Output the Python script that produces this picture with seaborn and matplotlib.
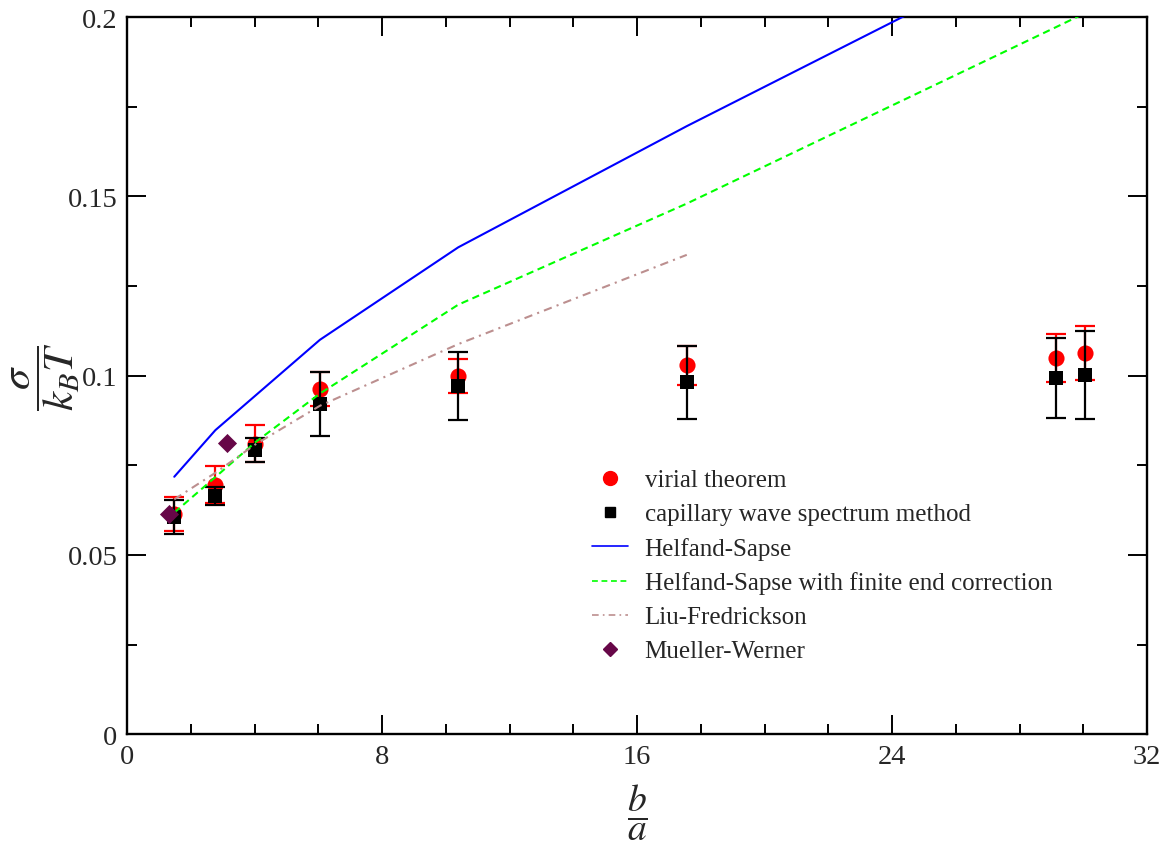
import numpy as np
import pandas as pd
import matplotlib
matplotlib.use("Agg")
import matplotlib.pyplot as plt
import seaborn as sns
from matplotlib.lines import Line2D
from matplotlib.ticker import MultipleLocator

# ---------------- data ----------------
ratio = [1.48, 2.77, 4.02, 6.05, 10.39, 17.56, 29.14, 30.05]
virial = [0.0615, 0.0696, 0.0810, 0.0963, 0.1000, 0.1029, 0.1049, 0.1063]
virial_err = [0.0047, 0.0051, 0.0051, 0.0047, 0.0047, 0.0055, 0.0068, 0.0076]
capillary = [0.0606, 0.0664, 0.0792, 0.0920, 0.0970, 0.0981, 0.0994, 0.1002]
capillary_err = [0.0047, 0.0026, 0.0033, 0.0089, 0.0095, 0.0101, 0.0112, 0.0123]

hs_x = [1.48, 2.77, 4.02, 6.05, 10.39, 17.56, 29.14, 30.05]
hs_y = [0.0718, 0.0848, 0.0944, 0.1100, 0.1358, 0.1696, 0.2217, 0.2257]

hsf_x = [1.48, 2.77, 4.02, 6.05, 10.39, 17.56, 29.14, 30.05]
hsf_y = [0.0618, 0.0717, 0.0814, 0.0950, 0.1198, 0.1480, 0.1972, 0.2011]

lf_x = [1.48, 2.77, 4.02, 6.05, 10.39, 17.56]
lf_y = [0.0655, 0.0729, 0.0808, 0.0916, 0.1088, 0.1337]

mw_x = [1.33, 3.13]
mw_y = [0.0613, 0.0812]

labels = ["virial theorem", "capillary wave spectrum method", "Helfand-Sapse",
          "Helfand-Sapse with finite end correction", "Liu-Fredrickson",
          "Mueller-Werner"]
x_ticks = [0, 8, 16, 24, 32]
y_ticks = [0, 0.05, 0.1, 0.15, 0.2]
y_tick_labels = ["0", "0.05", "0.1", "0.15", "0.2"]

# ---------------- style ----------------
sns.set_theme(style="ticks")
plt.rcParams["font.family"] = ["Liberation Serif", "DejaVu Serif"]
plt.rcParams["mathtext.fontset"] = "stix"

RED = "#ff0000"
BLUE = "#0000ff"
GREEN = "#00ff00"
BROWN = "#bc8f8f"
MAROON = "#670748"

fig = plt.figure(figsize=(11.66, 8.45), dpi=100)
ax = fig.add_axes([0.109, 0.130, 0.8747, 0.8485])

# error bars + markers
ax.errorbar(ratio, virial, yerr=virial_err, fmt="none", ecolor=RED,
            elinewidth=1.6, capsize=7.5, capthick=1.6, zorder=2)
sns.scatterplot(x=ratio, y=virial, marker="o", s=135, color=RED,
                linewidth=0, ax=ax, zorder=3)
ax.errorbar(ratio, capillary, yerr=capillary_err, fmt="none", ecolor="black",
            elinewidth=1.6, capsize=7.5, capthick=1.6, zorder=4)
sns.scatterplot(x=ratio, y=capillary, marker="s", s=100, color="black",
                linewidth=0, ax=ax, zorder=5)

# theory lines
sns.lineplot(x=hs_x, y=hs_y, sort=False, estimator=None, color=BLUE,
             linewidth=1.5, ax=ax, zorder=6)
sns.lineplot(x=hsf_x, y=hsf_y, sort=False, estimator=None, color=GREEN,
             linewidth=1.5, linestyle=(0, (3.5, 2.2)), ax=ax, zorder=6)
sns.lineplot(x=lf_x, y=lf_y, sort=False, estimator=None, color=BROWN,
             linewidth=1.5, linestyle=(0, (4, 2.5, 1, 2.5)), ax=ax, zorder=6)
sns.scatterplot(x=mw_x, y=mw_y, marker="D", s=95, color=MAROON,
                linewidth=0, ax=ax, zorder=7)

# axes
ax.set_xlim(0, 32)
ax.set_ylim(0, 0.2)
ax.set_xticks(x_ticks)
ax.set_yticks(y_ticks)
ax.xaxis.set_minor_locator(MultipleLocator(2))
ax.yaxis.set_minor_locator(MultipleLocator(0.025))
ax.set_yticklabels(y_tick_labels)
ax.set_xticklabels([str(t) for t in x_ticks])
ax.tick_params(which="both", direction="in", top=True, right=True,
               color="black", width=1.4, labelsize=20.5, pad=7)
ax.tick_params(which="major", length=14)
ax.tick_params(which="minor", length=7)
for sp in ax.spines.values():
    sp.set_visible(True)
    sp.set_linewidth(1.7)
    sp.set_color("black")

ax.set_xlabel(r"$\dfrac{b}{a}$", fontsize=27)
ax.set_ylabel(r"$\dfrac{\sigma}{k_B T}$", fontsize=31)
ax.xaxis.label.set_va("center")
ax.yaxis.label.set_va("center")
ax.xaxis.set_label_coords(0.5, -0.108)
ax.yaxis.set_label_coords(-0.079, 0.5)

# legend
handles = [
    Line2D([], [], linestyle="none", marker="o", markersize=10, color=RED),
    Line2D([], [], linestyle="none", marker="s", markersize=7.5, color="black"),
    Line2D([], [], color=BLUE, linewidth=1.2),
    Line2D([], [], color=GREEN, linewidth=1.2, linestyle=(0, (3.5, 2.2))),
    Line2D([], [], color=BROWN, linewidth=1.2, linestyle=(0, (4, 2.5, 1, 2.5))),
    Line2D([], [], linestyle="none", marker="D", markersize=7.5, color=MAROON),
]
leg = ax.legend(handles, labels, loc="upper left",
                bbox_to_anchor=(0.456, 0.370), frameon=False, fontsize=18,
                handlelength=1.45, handletextpad=0.65, labelspacing=0.46,
                borderaxespad=0, borderpad=0)

fig.savefig("out.png", dpi=100)
